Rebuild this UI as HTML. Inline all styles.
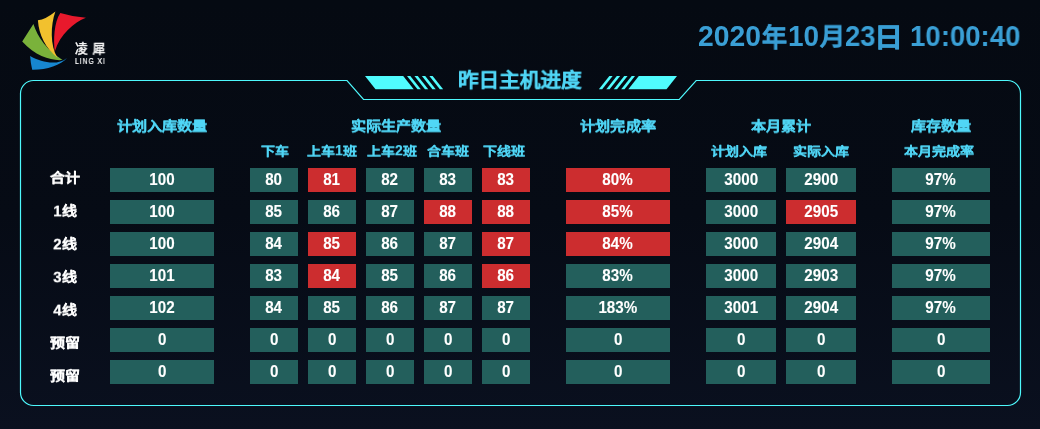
<!DOCTYPE html>
<html lang="zh-CN"><head><meta charset="utf-8">
<style>
*{margin:0;padding:0;box-sizing:border-box}
html,body{width:1040px;height:429px;overflow:hidden}
body{background:linear-gradient(180deg,#050a12 0%,#060b15 50%,#0a101f 100%);font-family:"Liberation Sans",sans-serif;font-weight:bold;position:relative}
.c{position:absolute;height:24px;line-height:24px;text-align:center;color:#fff;font-size:15.5px;-webkit-text-stroke:0.08px #fff;background:#235f5c}
.c.r{background:#cc2d2f}
.c span{display:inline-block;transform:scale(0.98,1.06);transform-origin:50% 17.4px}
.h2 .d2{display:inline-block;transform:scaleY(1.16);transform-origin:50% 70%}
.lab .d{display:inline-block;transform:scaleY(1.15)}
.lab{position:absolute;left:35px;width:60px;text-align:center;color:#fff;font-size:15px;-webkit-text-stroke:0.25px #fff;line-height:20px;height:20px;transform:scaleY(0.87);transform-origin:50% 10px}
.h1,.h2{position:absolute;width:200px;text-align:center;color:#50d6f6;white-space:nowrap;-webkit-text-stroke:0.2px #50d6f6}
.h1{font-size:15px;top:116.8px;line-height:20px;transform:scale(1.01,0.9);transform-origin:50% 2px}
.h2{font-size:14px;top:141.6px;line-height:20px;transform:scaleY(0.86);transform-origin:50% 3px}
.pl{position:absolute;white-space:nowrap;transform-origin:0 0}
.dt{color:#3a9fd5}
.tt{color:#50d6f6}
.lg{color:#fff}
svg{position:absolute;left:0;top:0}
body>*{will-change:transform}
</style></head><body>
<svg width="1040" height="429" viewBox="0 0 1040 429">
 <path d="M20.5 93.5 A13 13 0 0 1 33.5 80.5 L347 80.5 L363.5 99.5 L679.3 99.5 L696.2 80.5 L1007.5 80.5 A13 13 0 0 1 1020.5 93.5 L1020.5 392.5 A13 13 0 0 1 1007.5 405.5 L33.5 405.5 A13 13 0 0 1 20.5 392.5 Z" fill="none" stroke="#4ef8fc" stroke-width="1.2"/>
 <g fill="#50fcfe">
  <polygon points="365,76 403.2,76 413.7,89.3 375.5,89.3"/>
  <polygon points="407.00,76 410.30,76 420.80,89.3 417.50,89.3"/>
  <polygon points="414.45,76 417.75,76 428.25,89.3 424.95,89.3"/>
  <polygon points="421.90,76 425.20,76 435.70,89.3 432.40,89.3"/>
  <polygon points="429.35,76 432.65,76 443.15,89.3 439.85,89.3"/>
  <polygon points="677.0,76 638.8,76 628.3,89.3 666.5,89.3"/>
  <polygon points="635.00,76 631.70,76 621.20,89.3 624.50,89.3"/>
  <polygon points="627.55,76 624.25,76 613.75,89.3 617.05,89.3"/>
  <polygon points="620.10,76 616.80,76 606.30,89.3 609.60,89.3"/>
  <polygon points="612.65,76 609.35,76 598.85,89.3 602.15,89.3"/>
 </g>
 <g>
  <path d="M30.1 56 C42 62.5 57 66 67 57.9 C61 65 46 70 32.2 69.7 Q30.6 63 30.1 56 Z" fill="#1787d0"/>
  <path d="M33.4 24 C37.5 37 47 50 62.5 60 C52 61 36 57 22.2 41.6 Z" fill="#7ab23b"/>
  <path d="M55.4 11.4 Q45.55 19.35 37.9 20.3 Q39.5 43 57.4 57.8 C50 45 50.5 25 55.4 11.4 Z" fill="#f2c12e"/>
  <path d="M60.3 12.9 Q72 16.5 85.9 17.7 C74 22.5 60 34 54.8 51.6 C53.3 40 54 22 60.3 12.9 Z" fill="#e8192c"/>
 </g>
</svg>
<div class="pl dt" style="left:698.19px;top:17.66px;font-size:28px;line-height:36px;transform:scale(1.0100,1.0421)">2020</div>
<div class="pl dt" style="left:762.10px;top:20.13px;font-size:26px;line-height:36px;-webkit-text-stroke-width:0.5px;transform:scale(0.9577,0.9923)">年</div>
<div class="pl dt" style="left:787.61px;top:17.66px;font-size:28px;line-height:36px;transform:scale(0.9964,1.0421)">10</div>
<div class="pl dt" style="left:820.00px;top:20.04px;font-size:26px;line-height:36px;-webkit-text-stroke-width:0.5px;transform:scale(0.9727,0.9320)">月</div>
<div class="pl dt" style="left:844.92px;top:17.66px;font-size:28px;line-height:36px;transform:scale(0.9793,1.0421)">23</div>
<div class="pl dt" style="left:874.32px;top:19.70px;font-size:26px;line-height:36px;-webkit-text-stroke-width:0.5px;transform:scale(1.1211,1.0000)">日</div>
<div class="pl dt" style="left:909.83px;top:17.66px;font-size:28px;line-height:36px;transform:scale(0.9853,1.0421)">10:00:40</div>
<div class="pl tt" style="left:458.22px;top:65.57px;font-size:21px;line-height:30px;-webkit-text-stroke-width:0.3px;transform:scale(0.9816,0.9333)">昨日主机进度</div>
<div class="pl lg" style="left:74.80px;top:41.01px;font-size:13px;line-height:16px;letter-spacing:5px;font-weight:normal;-webkit-text-stroke-width:0.45px;transform:scale(0.9742,0.9923)">凌犀</div>
<div class="pl lg" style="left:75.20px;top:56.04px;font-size:8px;line-height:10px;letter-spacing:1px;font-weight:normal;-webkit-text-stroke-width:0.2px;transform:scale(0.8647,1.0800)">LING XI</div>
<div class="h1" style="left:62px">计划入库数量</div>
<div class="h1" style="left:295.6px">实际生产数量</div>
<div class="h1" style="left:518px">计划完成率</div>
<div class="h1" style="left:681px">本月累计</div>
<div class="h1" style="left:841px">库存数量</div>
<div class="h2" style="left:174.5px">下车</div>
<div class="h2" style="left:232px">上车<span class="d2">1</span>班</div>
<div class="h2" style="left:291.5px">上车<span class="d2">2</span>班</div>
<div class="h2" style="left:348px">合车班</div>
<div class="h2" style="left:403.7px">下线班</div>
<div class="h2" style="left:638.7px">计划入库</div>
<div class="h2" style="left:721px">实际入库</div>
<div class="h2" style="left:839px">本月完成率</div>
<div class="lab" style="top:167.5px">合计</div>
<div class="c" style="left:110px;top:168px;width:104px"><span>100</span></div>
<div class="c" style="left:250px;top:168px;width:48px"><span>80</span></div>
<div class="c r" style="left:308px;top:168px;width:48px"><span>81</span></div>
<div class="c" style="left:366px;top:168px;width:48px"><span>82</span></div>
<div class="c" style="left:424px;top:168px;width:48px"><span>83</span></div>
<div class="c r" style="left:482px;top:168px;width:48px"><span>83</span></div>
<div class="c r" style="left:566px;top:168px;width:104px"><span>80%</span></div>
<div class="c" style="left:706px;top:168px;width:70px"><span>3000</span></div>
<div class="c" style="left:786px;top:168px;width:70px"><span>2900</span></div>
<div class="c" style="left:892px;top:168px;width:98px"><span>97%</span></div>
<div class="lab" style="top:200.5px"><span class="d">1</span>线</div>
<div class="c" style="left:110px;top:200px;width:104px"><span>100</span></div>
<div class="c" style="left:250px;top:200px;width:48px"><span>85</span></div>
<div class="c" style="left:308px;top:200px;width:48px"><span>86</span></div>
<div class="c" style="left:366px;top:200px;width:48px"><span>87</span></div>
<div class="c r" style="left:424px;top:200px;width:48px"><span>88</span></div>
<div class="c r" style="left:482px;top:200px;width:48px"><span>88</span></div>
<div class="c r" style="left:566px;top:200px;width:104px"><span>85%</span></div>
<div class="c" style="left:706px;top:200px;width:70px"><span>3000</span></div>
<div class="c r" style="left:786px;top:200px;width:70px"><span>2905</span></div>
<div class="c" style="left:892px;top:200px;width:98px"><span>97%</span></div>
<div class="lab" style="top:233.5px"><span class="d">2</span>线</div>
<div class="c" style="left:110px;top:232px;width:104px"><span>100</span></div>
<div class="c" style="left:250px;top:232px;width:48px"><span>84</span></div>
<div class="c r" style="left:308px;top:232px;width:48px"><span>85</span></div>
<div class="c" style="left:366px;top:232px;width:48px"><span>86</span></div>
<div class="c" style="left:424px;top:232px;width:48px"><span>87</span></div>
<div class="c r" style="left:482px;top:232px;width:48px"><span>87</span></div>
<div class="c r" style="left:566px;top:232px;width:104px"><span>84%</span></div>
<div class="c" style="left:706px;top:232px;width:70px"><span>3000</span></div>
<div class="c" style="left:786px;top:232px;width:70px"><span>2904</span></div>
<div class="c" style="left:892px;top:232px;width:98px"><span>97%</span></div>
<div class="lab" style="top:266.5px"><span class="d">3</span>线</div>
<div class="c" style="left:110px;top:264px;width:104px"><span>101</span></div>
<div class="c" style="left:250px;top:264px;width:48px"><span>83</span></div>
<div class="c r" style="left:308px;top:264px;width:48px"><span>84</span></div>
<div class="c" style="left:366px;top:264px;width:48px"><span>85</span></div>
<div class="c" style="left:424px;top:264px;width:48px"><span>86</span></div>
<div class="c r" style="left:482px;top:264px;width:48px"><span>86</span></div>
<div class="c" style="left:566px;top:264px;width:104px"><span>83%</span></div>
<div class="c" style="left:706px;top:264px;width:70px"><span>3000</span></div>
<div class="c" style="left:786px;top:264px;width:70px"><span>2903</span></div>
<div class="c" style="left:892px;top:264px;width:98px"><span>97%</span></div>
<div class="lab" style="top:299.5px"><span class="d">4</span>线</div>
<div class="c" style="left:110px;top:296px;width:104px"><span>102</span></div>
<div class="c" style="left:250px;top:296px;width:48px"><span>84</span></div>
<div class="c" style="left:308px;top:296px;width:48px"><span>85</span></div>
<div class="c" style="left:366px;top:296px;width:48px"><span>86</span></div>
<div class="c" style="left:424px;top:296px;width:48px"><span>87</span></div>
<div class="c" style="left:482px;top:296px;width:48px"><span>87</span></div>
<div class="c" style="left:566px;top:296px;width:104px"><span>183%</span></div>
<div class="c" style="left:706px;top:296px;width:70px"><span>3001</span></div>
<div class="c" style="left:786px;top:296px;width:70px"><span>2904</span></div>
<div class="c" style="left:892px;top:296px;width:98px"><span>97%</span></div>
<div class="lab" style="top:332.5px">预留</div>
<div class="c" style="left:110px;top:328px;width:104px"><span>0</span></div>
<div class="c" style="left:250px;top:328px;width:48px"><span>0</span></div>
<div class="c" style="left:308px;top:328px;width:48px"><span>0</span></div>
<div class="c" style="left:366px;top:328px;width:48px"><span>0</span></div>
<div class="c" style="left:424px;top:328px;width:48px"><span>0</span></div>
<div class="c" style="left:482px;top:328px;width:48px"><span>0</span></div>
<div class="c" style="left:566px;top:328px;width:104px"><span>0</span></div>
<div class="c" style="left:706px;top:328px;width:70px"><span>0</span></div>
<div class="c" style="left:786px;top:328px;width:70px"><span>0</span></div>
<div class="c" style="left:892px;top:328px;width:98px"><span>0</span></div>
<div class="lab" style="top:365.5px">预留</div>
<div class="c" style="left:110px;top:360px;width:104px"><span>0</span></div>
<div class="c" style="left:250px;top:360px;width:48px"><span>0</span></div>
<div class="c" style="left:308px;top:360px;width:48px"><span>0</span></div>
<div class="c" style="left:366px;top:360px;width:48px"><span>0</span></div>
<div class="c" style="left:424px;top:360px;width:48px"><span>0</span></div>
<div class="c" style="left:482px;top:360px;width:48px"><span>0</span></div>
<div class="c" style="left:566px;top:360px;width:104px"><span>0</span></div>
<div class="c" style="left:706px;top:360px;width:70px"><span>0</span></div>
<div class="c" style="left:786px;top:360px;width:70px"><span>0</span></div>
<div class="c" style="left:892px;top:360px;width:98px"><span>0</span></div>
</body></html>
